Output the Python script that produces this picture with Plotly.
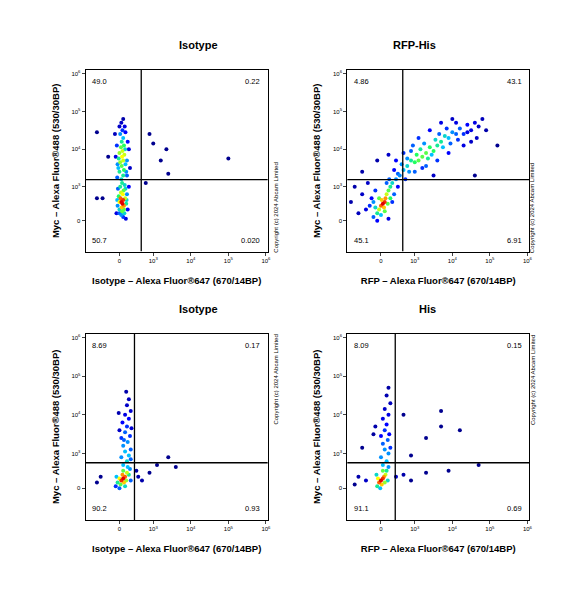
import plotly.graph_objects as go

# transformed (biexponential-like) display units: 0 ->0, 1e3->0.9, 1e4->1.9, 1e5->2.9, 1e6->3.9
tick_vals = [0, 0.9, 1.9, 2.9, 3.9]
tick_text = ["0", "10<sup>3</sup>", "10<sup>4</sup>", "10<sup>5</sup>", "10<sup>6</sup>"]

titles = ["Isotype", "RFP-His", "Isotype", "His"]
x_titles = ["Isotype – Alexa Fluor®647 (670/14BP)", "RFP – Alexa Fluor®647 (670/14BP)",
            "Isotype – Alexa Fluor®647 (670/14BP)", "RFP – Alexa Fluor®647 (670/14BP)"]
y_title = "Myc – Alexa Fluor®488 (530/30BP)"
gate_x = [0.58, 0.58, 0.40, 0.38]
gate_y = [1.09, 1.09, 0.66, 0.66]
# quadrant percentages: UL, UR, LL, LR
quad_pct = [["49.0", "0.22", "50.7", "0.020"],
            ["4.86", "43.1", "45.1", "6.91"],
            ["8.69", "0.17", "90.2", "0.93"],
            ["8.09", "0.15", "91.1", "0.69"]]

# events (x, y, density)
p1 = [(0.05,0.5,1),(0.08,0.45,1),(0.1,0.55,0.95),(0.03,0.6,0.9),(0.12,0.4,0.85),(0.06,0.35,0.8),(0.0,0.5,0.75),(0.15,0.6,0.7),(0.09,0.7,0.75),(0.04,0.75,0.7),(0.11,0.8,0.6),(-0.02,0.65,0.55),(0.18,0.45,0.5),(0.07,0.25,0.6),(0.13,0.2,0.45),(0.0,0.3,0.45),(0.05,0.15,0.35),(0.1,0.1,0.25),(-0.05,0.4,0.35),(0.2,0.7,0.35),(0.02,0.9,0.5),(0.14,0.95,0.45),(0.07,1.0,0.5),(-0.04,0.85,0.3),(0.22,0.3,0.2),(0.17,0.05,0.15),(-0.08,0.2,0.15),(0.25,0.9,0.2),
      (0.05,1.1,0.45),(0.1,1.2,0.5),(0.0,1.3,0.5),(0.12,1.35,0.55),(0.06,1.45,0.6),(0.02,1.55,0.65),(0.1,1.6,0.7),(0.07,1.7,0.75),(0.13,1.75,0.7),(0.0,1.8,0.65),(0.08,1.85,0.7),(0.04,1.95,0.6),(0.12,2.0,0.55),(0.06,2.1,0.5),(0.1,2.2,0.4),(0.02,2.3,0.35),(0.08,2.4,0.25),(0.14,2.5,0.15),(0.05,2.6,0.1),(-0.05,1.5,0.35),(0.2,1.6,0.35),(-0.07,2.0,0.25),(0.22,2.1,0.2),(0.18,1.3,0.35),(-0.06,1.15,0.3),(0.25,1.9,0.15),(-0.1,1.7,0.15),(0.16,2.35,0.2),(0.0,2.5,0.1),(0.1,2.7,0.05),(0.28,1.4,0.1),(-0.12,2.3,0.08),
      (0.16,1.5,0.4),(-0.02,1.65,0.5),(0.15,1.9,0.45),(-0.03,1.4,0.4),(0.2,1.2,0.3),(0.16,0.85,0.45),(-0.06,0.55,0.4),(0.19,0.55,0.45),(0.0,0.2,0.3),(0.12,0.3,0.6),
      (0.8,2.3,0),(0.9,2.05,0),(1.25,1.9,0),(1.1,1.6,0),(1.3,1.25,0),(2.9,1.65,0),(-0.6,2.35,0),(-0.3,1.7,0),(-0.6,0.6,0),(-0.45,0.6,0),(0.7,1.0,0)]
p2 = [(0.05,0.45,1),(0.1,0.5,0.95),(0.0,0.4,0.9),(0.12,0.6,0.85),(0.08,0.35,0.8),(-0.05,0.3,0.7),(0.15,0.7,0.7),(0.2,0.8,0.6),(0.02,0.55,0.8),(-0.1,0.2,0.5),(0.25,0.9,0.5),(0.3,1.0,0.45),(-0.15,0.35,0.45),(0.18,0.45,0.6),(0.0,0.15,0.4),(-0.2,0.1,0.3),(0.1,0.25,0.6),(0.35,0.7,0.3),(-0.3,0.4,0.25),(0.4,1.1,0.35),(0.3,0.5,0.25),(-0.25,0.6,0.2),(0.15,1.0,0.3),(-0.4,0.3,0.15),(-0.1,0.0,0.2),(0.45,0.9,0.2),(0.2,0.05,0.15),(-0.5,0.7,0.1),(-0.6,0.2,0.08),(-0.7,0.9,0.05),(-0.5,1.3,0.05),(-0.8,0.5,0.05),(-0.35,1.0,0.1),
      (-0.05,0.6,0.6),(0.25,0.6,0.55),(-0.2,0.5,0.35),(0.22,1.1,0.3),(-0.15,0.8,0.25),
      (0.5,1.2,0.35),(0.6,1.35,0.4),(0.55,1.5,0.35),(0.7,1.45,0.45),(0.8,1.6,0.5),(0.75,1.3,0.35),(0.9,1.55,0.55),(0.95,1.75,0.55),(1.0,1.6,0.6),(1.1,1.7,0.6),(1.05,1.9,0.5),(1.2,1.8,0.6),(1.3,1.95,0.55),(1.25,1.65,0.5),(1.4,1.85,0.55),(1.5,2.0,0.5),(1.45,2.15,0.45),(1.6,2.1,0.5),(1.7,2.25,0.45),(1.65,1.95,0.4),(1.8,2.2,0.4),(1.9,2.35,0.35),(1.85,2.05,0.3),(2.0,2.3,0.3),(2.1,2.45,0.3),(2.2,2.3,0.25),(2.3,2.55,0.2),(2.4,2.4,0.15),(2.5,2.6,0.15),(2.6,2.5,0.1),(2.7,2.7,0.08),(2.55,2.2,0.1),(0.4,1.6,0.2),(0.6,1.8,0.25),(0.85,2.0,0.3),(1.0,2.2,0.25),(1.3,2.4,0.2),(1.6,2.6,0.15),(1.9,2.7,0.1),(0.9,1.3,0.3),(1.2,1.45,0.3),(1.5,1.6,0.25),(1.8,1.8,0.2),(2.2,2.0,0.15),(2.4,2.1,0.1),(0.35,1.35,0.2),(0.65,1.1,0.25),(2.8,2.4,0.05),(2.0,2.6,0.15),(0.2,1.75,0.1),(-0.1,1.6,0.05),(3.1,2.0,0),(2.5,1.2,0),(1.4,1.2,0.1),
      (0.7,1.65,0.35),(1.15,2.05,0.35),(1.35,1.75,0.4),(1.75,2.45,0.25),(2.05,2.15,0.25),(2.3,2.35,0.15),(0.45,1.25,0.3),(1.1,1.4,0.25),(0.8,1.85,0.3),(1.55,2.3,0.3)]
p3 = [(0.1,0.25,1),(0.05,0.2,0.95),(0.15,0.3,0.9),(0.08,0.35,0.85),(0.12,0.15,0.8),(0.0,0.25,0.75),(0.2,0.4,0.7),(0.03,0.1,0.6),(0.18,0.2,0.65),(-0.05,0.15,0.5),(0.25,0.35,0.5),(0.1,0.45,0.6),(-0.08,0.3,0.4),(0.15,0.05,0.45),(0.28,0.5,0.35),(0.0,0.0,0.3),(0.22,0.55,0.4),(-0.1,0.05,0.25),(0.3,0.2,0.3),
      (0.1,0.6,0.4),(0.2,0.7,0.45),(0.05,0.8,0.35),(0.25,0.85,0.4),(0.15,0.95,0.4),(0.3,1.0,0.3),(0.1,1.1,0.35),(0.22,1.2,0.35),(0.05,1.3,0.25),(0.28,1.35,0.25),(0.15,1.45,0.3),(0.2,1.6,0.25),(0.08,1.7,0.2),(0.25,1.8,0.2),(0.15,1.9,0.15),(0.3,2.0,0.12),(0.2,2.15,0.1),(0.25,2.3,0.08),(0.18,2.5,0.05),(0.0,1.5,0.1),(0.32,1.55,0.12),(-0.02,1.95,0.06),(0.12,1.25,0.3),(0.3,0.75,0.3),
      (0.5,0.3,0.05),(0.6,0.2,0.05),(0.8,0.4,0),(1.0,0.6,0),(1.3,0.8,0),(1.5,0.55,0),(0.45,0.45,0.05),(-0.5,0.3,0),(-0.6,0.15,0)]
p4 = [(0.0,0.2,1),(0.05,0.25,0.95),(-0.05,0.15,0.9),(0.08,0.3,0.85),(0.02,0.1,0.8),(-0.08,0.25,0.75),(0.12,0.35,0.7),(0.1,0.15,0.65),(-0.1,0.05,0.5),(0.15,0.45,0.5),(-0.12,0.35,0.45),(0.05,0.45,0.6),(0.18,0.2,0.45),(-0.02,0.0,0.4),(0.2,0.55,0.35),
      (0.05,0.6,0.4),(0.15,0.7,0.4),(0.0,0.8,0.35),(0.2,0.9,0.35),(0.1,1.0,0.35),(0.25,1.05,0.25),(0.05,1.15,0.3),(0.18,1.25,0.3),(0.0,1.35,0.2),(0.22,1.4,0.2),(0.1,1.5,0.25),(0.15,1.65,0.2),(0.05,1.8,0.15),(0.2,1.9,0.15),(0.1,2.05,0.1),(0.25,2.2,0.08),(0.15,2.4,0.06),(0.2,2.6,0.04),(-0.15,1.6,0.05),(-0.2,1.4,0.03),
      (-0.6,0.3,0.05),(-0.4,0.2,0.1),(-0.7,0.1,0),(-0.5,1.05,0),(0.4,0.3,0.1),(0.6,0.35,0.05),(0.8,0.2,0),(1.2,0.4,0),(1.8,0.45,0),(2.6,0.6,0),(1.6,1.6,0),(0.6,1.9,0),(1.6,2.0,0),(2.1,1.5,0),(1.2,1.3,0),(0.8,0.85,0)]
panels = [p1, p2, p3, p4]

jet = [[0, "#00008f"], [0.2, "#0000ff"], [0.4, "#00c0ff"], [0.55, "#20ff60"], [0.75, "#ffff00"], [0.9, "#ff6000"], [1, "#e00000"]]

xdom = [[0.136, 0.455], [0.594, 0.913], [0.136, 0.455], [0.594, 0.913]]
ydom = [[0.595, 0.898], [0.595, 0.898], [0.147, 0.458], [0.147, 0.458]]
XR = [-0.9, 3.95]
YR = [-0.82, 4.0]

fig = go.Figure()
layout = dict(width=574, height=600, margin=dict(l=0, r=0, t=0, b=0),
              paper_bgcolor="white", plot_bgcolor="white", showlegend=False,
              font=dict(family="Liberation Sans, Arial", color="black"))
ann = []
shapes = []
for i, pts in enumerate(panels):
    n = i + 1
    pts = sorted(pts, key=lambda p: p[2])
    xa = "x" if n == 1 else f"x{n}"
    ya = "y" if n == 1 else f"y{n}"
    fig.add_trace(go.Scatter(x=[p[0] for p in pts], y=[p[1] for p in pts], mode="markers",
                             xaxis=xa, yaxis=ya,
                             marker=dict(size=4, color=[p[2] for p in pts], colorscale=jet, cmin=0, cmax=1)))
    ax = dict(domain=xdom[i], range=XR, tickvals=tick_vals, ticktext=tick_text, ticks="outside", ticklen=3,
              tickfont=dict(size=6), showline=True, linecolor="black", linewidth=1, mirror=True,
              showgrid=False, zeroline=False, anchor=ya,
              title=dict(text="<b>" + x_titles[i] + "</b>", font=dict(size=9.5), standoff=14))
    ay = dict(domain=ydom[i], range=YR, tickvals=tick_vals, ticktext=tick_text, ticks="outside", ticklen=3,
              tickfont=dict(size=6), showline=True, linecolor="black", linewidth=1, mirror=True,
              showgrid=False, zeroline=False, anchor=xa,
              title=dict(text="<b>" + y_title + "</b>", font=dict(size=9.5), standoff=10))
    layout["xaxis" if n == 1 else f"xaxis{n}"] = ax
    layout["yaxis" if n == 1 else f"yaxis{n}"] = ay
    xr = xa; yr = ya
    shapes.append(dict(type="line", xref=xr, yref=yr, x0=gate_x[i], x1=gate_x[i], y0=YR[0], y1=YR[1], line=dict(color="black", width=1.3)))
    shapes.append(dict(type="line", xref=xr, yref=yr, x0=XR[0], x1=XR[1], y0=gate_y[i], y1=gate_y[i], line=dict(color="black", width=1.3)))
    q = quad_pct[i]
    for txt, xx, yy, xan in [(q[0], XR[0] + 0.12, YR[1] - 0.3, "left"), (q[1], XR[1] - 0.15, YR[1] - 0.3, "right"),
                             (q[2], XR[0] + 0.12, YR[0] + 0.3, "left"), (q[3], XR[1] - 0.15, YR[0] + 0.3, "right")]:
        ann.append(dict(x=xx, y=yy, xref=xr, yref=yr, text=txt, showarrow=False, xanchor=xan, font=dict(size=7.5)))
    cx = (xdom[i][0] + xdom[i][1]) / 2
    ann.append(dict(x=cx, y=ydom[i][1] + 0.028, xref="paper", yref="paper", text="<b>" + titles[i] + "</b>",
                    showarrow=False, yanchor="bottom", font=dict(size=11)))
    ann.append(dict(x=xdom[i][1] + 0.014, y=(ydom[i][0] + ydom[i][1]) / 2, xref="paper", yref="paper",
                    text="Copyright (c) 2024 Abcam Limited", textangle=-90, showarrow=False, font=dict(size=6)))
layout["annotations"] = ann
layout["shapes"] = shapes
fig.update_layout(**layout)
fig.write_html("out.html")
